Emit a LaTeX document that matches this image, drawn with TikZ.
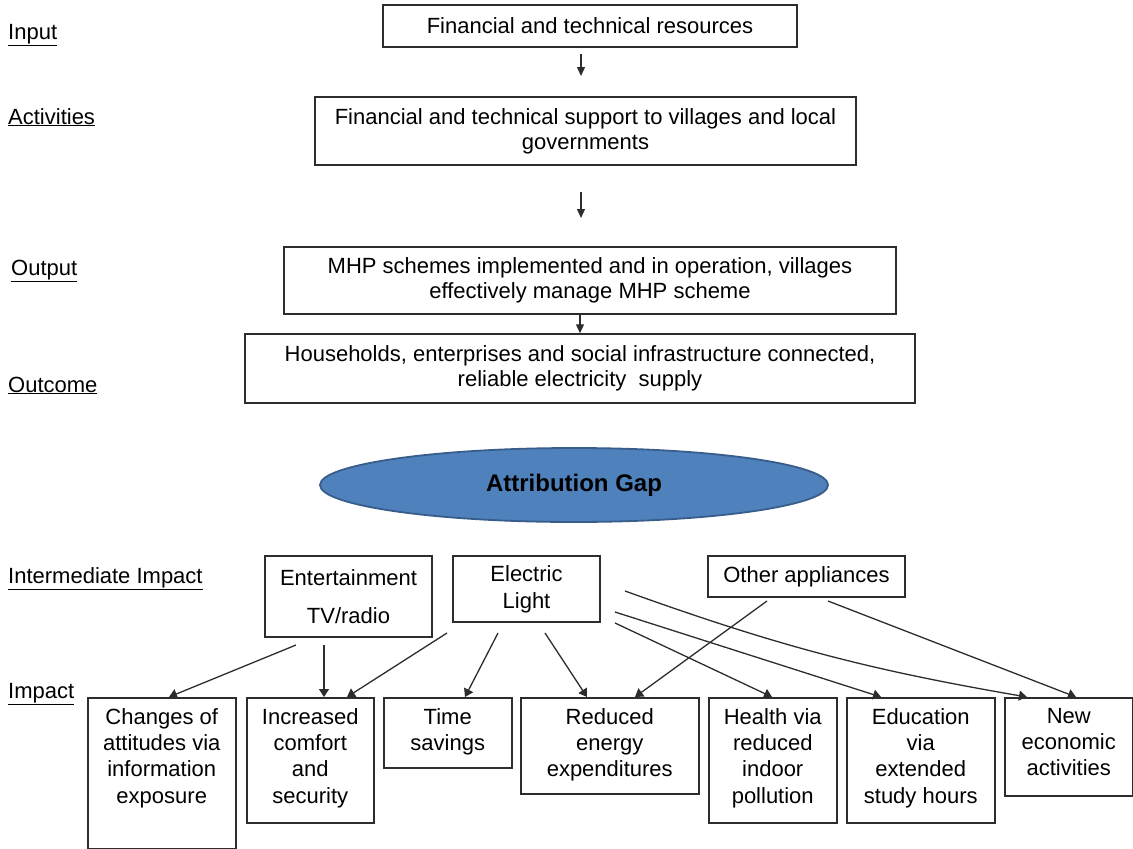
\documentclass[tikz,border=0pt]{standalone}
\usepackage{fontspec}
\setmainfont{Liberation Sans}
\usetikzlibrary{arrows.meta,calc,shapes.geometric}
\definecolor{ellfill}{RGB}{79,129,189}
\definecolor{elldraw}{RGB}{56,93,138}
\definecolor{ln}{RGB}{45,45,45}
\begin{document}
\begin{tikzpicture}[x=1pt,y=-1pt,
  box/.style={draw=ln, line width=1.5pt, inner sep=0pt, align=center, font=\fontsize{22}{25}\selectfont},
  imptxt/.style={inner sep=0pt, align=center, font=\fontsize{22}{26.3}\selectfont, anchor=north},
  lab/.style={inner sep=0pt, anchor=base west, font=\fontsize{22}{25}\selectfont},
  arr/.style={draw=ln, line width=1.3pt, -{Triangle[length=8pt,width=10pt]}},
  sarr/.style={draw=ln, line width=1.3pt, -{Triangle[length=9pt,width=8pt]}},
  gapell/.style={ellipse, draw=elldraw, line width=1.8pt, fill=ellfill, inner sep=0pt, font=\fontsize{24}{25}\selectfont\bfseries}
]
\useasboundingbox (0,0) rectangle (1133,849);

% left labels
\node[lab] (lin)  at (8,39)   {\underline{Input}};
\node[lab] (lact) at (8,124)  {\underline{Activities}};
\node[lab] (lout) at (11,275) {\underline{Output}};
\node[lab] (loc)  at (8,392)  {\underline{Outcome}};
\node[lab] (lii)  at (8,583)  {\underline{Intermediate Impact}};
\node[lab] (lim)  at (8,698)  {\underline{Impact}};

% chain
\node[box, minimum width=414, minimum height=42] (b1) at (590,26) {Financial and technical resources};
\node[box, minimum width=541, minimum height=68] (b2) at (585.5,131) {Financial and technical support to villages and local\\governments};
\node[box, minimum width=612, minimum height=67] (b3) at (590,280.5) {MHP schemes implemented and in operation, villages\\effectively manage MHP scheme};
\node[box, minimum width=670, minimum height=69] (b4) at (580,368.5) {Households, enterprises and social infrastructure connected,\\reliable electricity\ \ supply};

\coordinate (a1s) at (581,54);
\coordinate (a1e) at (581,76);
\coordinate (a2s) at (581,192);
\coordinate (a2e) at (581,218);
\draw[sarr] (a1s) -- (a1e);
\draw[sarr] (a2s) -- (a2e);
\draw[sarr] ([xshift=-10pt]b3.south) -- (b4.north);

\node[gapell, minimum width=508, minimum height=74] (gap) at (574,485) {Attribution Gap};

% intermediate
\node[box, minimum width=167, minimum height=81] (ent) at (348.5,596.5) {Entertainment\\[13pt]TV/radio};
\node[box, minimum width=147, minimum height=66] (lig) at (526.5,589) {Electric\\[2pt]Light};
\node[box, minimum width=197, minimum height=41] (oth) at (806.5,576.5) {Other appliances};

% impact boxes
\node[box, minimum width=148, minimum height=151, anchor=north west] (chg) at (87,697) {};
\node[box, minimum width=127, minimum height=125, anchor=north west] (inc) at (246,697) {};
\node[box, minimum width=128, minimum height=70,  anchor=north west] (tim) at (383,697) {};
\node[box, minimum width=178, minimum height=96,  anchor=north west] (red) at (520,697) {};
\node[box, minimum width=128, minimum height=125, anchor=north west] (hea) at (708,697) {};
\node[box, minimum width=148, minimum height=125, anchor=north west] (edu) at (846,697) {};
\node[box, minimum width=128, minimum height=98,  anchor=north west] (new) at (1004,697) {};

\node[imptxt] (tchg) at ([yshift=-11pt]chg.north) {Changes of\\attitudes via\\information\\exposure};
\node[imptxt] (tinc) at ([yshift=-11pt]inc.north) {Increased\\comfort\\and\\security};
\node[imptxt] (ttim) at ([yshift=-11pt]tim.north) {Time\\savings};
\node[imptxt] (tred) at ([yshift=-11pt]red.north) {Reduced\\energy\\expenditures};
\node[imptxt] (thea) at ([yshift=-11pt]hea.north) {Health via\\reduced\\indoor\\pollution};
\node[imptxt] (tedu) at ([yshift=-11pt]edu.north) {Education\\via\\extended\\study hours};
\node[imptxt] (tnew) at ([yshift=-11pt]new.north) {New\\economic\\activities};

% connector start points
\coordinate (e1) at (296,645);
\coordinate (e2) at (324,645);
\coordinate (l1) at (447,633);
\coordinate (l2) at (498,633);
\coordinate (l3) at (545,633);
\coordinate (l4) at (615,623);
\coordinate (l5) at (615,612);
\coordinate (l6) at (625,591);
\coordinate (o1) at (767,601);
\coordinate (o2) at (828,601);

\draw[arr] (e1) -- ([xshift=82pt]chg.north west);
\draw[arr] (e2) -- ([xshift=78pt]inc.north west);
\draw[arr] (l1) -- ([xshift=101pt]inc.north west);
\draw[arr] (l2) -- ([xshift=82pt]tim.north west);
\draw[arr] (l3) -- ([xshift=67pt]red.north west);
\draw[arr] (l4) -- ([xshift=64pt]hea.north west);
\draw[arr] (l5) -- ([xshift=35pt]edu.north west);
\draw[arr] (l6) to[bend right=5] ([xshift=23pt]new.north west);
\draw[arr] (o1) -- ([xshift=115pt]red.north west);
\draw[arr] (o2) -- ([xshift=72pt]new.north west);
\end{tikzpicture}
\end{document}
